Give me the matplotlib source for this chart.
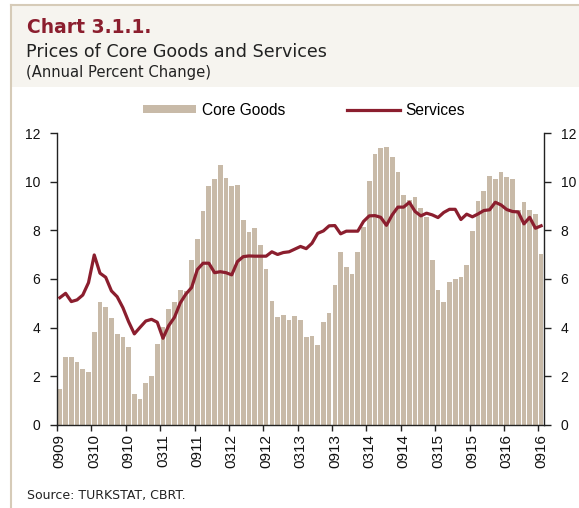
import matplotlib
matplotlib.use("Agg")
import matplotlib.pyplot as plt
from matplotlib.patches import Rectangle
from matplotlib.lines import Line2D
import numpy as np

# Monthly data, 09/2009 .. 09/2016 (85 months)
core_goods = [
    1.48, 2.79, 2.77, 2.57, 2.31, 2.17,   # 0909-0210
    3.80, 5.07, 4.85, 4.40, 3.75, 3.61,   # 0310-0810
    3.20, 1.26, 1.06, 1.72, 2.01, 3.32,   # 0910-0211
    4.01, 4.77, 5.05, 5.56, 5.51, 6.79,   # 0311-0811
    7.66, 8.79, 9.84, 10.12, 10.71, 10.16,  # 0911-0212
    9.84, 9.86, 8.43, 7.93, 8.12, 7.42,   # 0312-0812
    6.41, 5.10, 4.45, 4.52, 4.31, 4.46,   # 0912-0213
    4.30, 3.61, 3.67, 3.28, 4.23, 4.59,   # 0313-0813
    5.76, 7.12, 6.51, 6.21, 7.13, 8.16,   # 0913-0214
    10.05, 11.14, 11.41, 11.44, 11.04, 10.40,  # 0314-0814
    9.44, 9.24, 9.38, 8.91, 8.56, 6.80,   # 0914-0215
    5.55, 5.07, 5.89, 5.99, 6.07, 6.59,   # 0315-0815
    7.97, 9.20, 9.63, 10.23, 10.12, 10.40,  # 0915-0216
    10.18, 10.12, 8.85, 9.16, 8.86, 8.68,  # 0316-0816
    7.01,                                  # 0916
]

services = [
    5.23, 5.41, 5.07, 5.14, 5.34, 5.85,
    6.99, 6.24, 6.07, 5.51, 5.27, 4.82,
    4.24, 3.74, 4.01, 4.27, 4.34, 4.22,
    3.56, 4.08, 4.42, 5.01, 5.38, 5.65,
    6.39, 6.65, 6.65, 6.26, 6.30, 6.26,
    6.17, 6.72, 6.92, 6.95, 6.94, 6.94,
    6.94, 7.12, 7.01, 7.09, 7.12, 7.23,
    7.34, 7.25, 7.47, 7.88, 7.98, 8.19,
    8.20, 7.86, 7.97, 7.97, 7.97, 8.37,
    8.60, 8.61, 8.54, 8.21, 8.64, 8.96,
    8.96, 9.16, 8.78, 8.60, 8.71, 8.64,
    8.53, 8.74, 8.87, 8.87, 8.45, 8.67,
    8.56, 8.68, 8.82, 8.85, 9.16, 9.05,
    8.86, 8.78, 8.76, 8.27, 8.54, 8.09,
    8.19,
]

tick_labels = ["0909", "0310", "0910", "0311", "0911", "0312", "0912", "0313",
               "0913", "0314", "0914", "0315", "0915", "0316", "0916"]
y_ticks = [0, 2, 4, 6, 8, 10, 12]

BAR_C = "#c8baa8"
LINE_C = "#8b1e2e"
W, H = 579, 508

fig = plt.figure(figsize=(W / 100, H / 100), dpi=100)

# Header band and frame lines
fig.patches.append(Rectangle((11 / W, 1 - 87 / H), 1 - 11 / W, 82 / H,
                             transform=fig.transFigure, facecolor="#f6f4ef",
                             edgecolor="none", zorder=0))
fig.lines.append(Line2D([11 / W, 11 / W], [0, 1 - 5 / H], transform=fig.transFigure,
                        color="#d6cbb8", lw=1.5))
fig.lines.append(Line2D([11 / W, 1], [1 - 5 / H, 1 - 5 / H], transform=fig.transFigure,
                        color="#d6cbb8", lw=1.5))

fig.text(27 / W, 1 - 33 / H, "Chart 3.1.1.", color=LINE_C, fontsize=13.5,
         fontweight="bold", family="DejaVu Sans")
fig.text(26 / W, 1 - 57 / H, "Prices of Core Goods and Services", color="#222222",
         fontsize=12.6, family="DejaVu Sans")
fig.text(26 / W, 1 - 77 / H, "(Annual Percent Change)", color="#222222",
         fontsize=10.6, family="DejaVu Sans")
fig.text(27 / W, 1 - 499 / H, "Source: TURKSTAT, CBRT.", color="#222222",
         fontsize=9, family="DejaVu Sans")

ax = fig.add_axes([57 / W, 1 - 424.7 / H, (544 - 57) / W, (424.7 - 133.3) / H])
n = len(core_goods)
x = np.arange(n)
bars = ax.bar(x, core_goods, width=0.82, color=BAR_C, zorder=1)
line, = ax.plot(x, services, color=LINE_C, lw=2.3, zorder=3,
                solid_joinstyle="round")

ax.set_xlim(-0.5, n - 0.5)
ax.set_ylim(0, 12)
# labels at category centres, tick marks at category boundaries
ax.set_xticks(np.arange(len(tick_labels)) * 6)
ax.set_xticklabels(tick_labels, rotation=90, family="Liberation Sans", fontsize=11)
ax.set_xticks(np.arange(len(tick_labels)) * 6 - 0.5, minor=True)
ax.tick_params(axis="x", which="major", length=0, pad=7)
ax.tick_params(axis="x", which="minor", direction="out", length=4.5, width=1,
               color="#222222")
ax.set_yticks(y_ticks)
ax.set_yticklabels([str(v) for v in y_ticks], family="Liberation Sans", fontsize=10)
ax.tick_params(axis="y", direction="out", length=5, width=1, color="#222222",
               labelcolor="#111111", right=True, labelright=True, pad=7)
ax.tick_params(axis="x", labelcolor="#111111")
for s in ("left", "right", "bottom"):
    ax.spines[s].set_color("#222222")
    ax.spines[s].set_linewidth(1)
ax.spines["top"].set_visible(False)

fig.legend([bars, line], ["Core Goods", "Services"], loc="center",
           bbox_to_anchor=(304 / W, 1 - 110 / H), ncol=2, frameon=False,
           prop={"family": "Liberation Sans", "size": 11.2},
           handlelength=3.4, handleheight=0.5, handletextpad=0.35,
           columnspacing=4.0)

fig.savefig("out.png", dpi=100)
